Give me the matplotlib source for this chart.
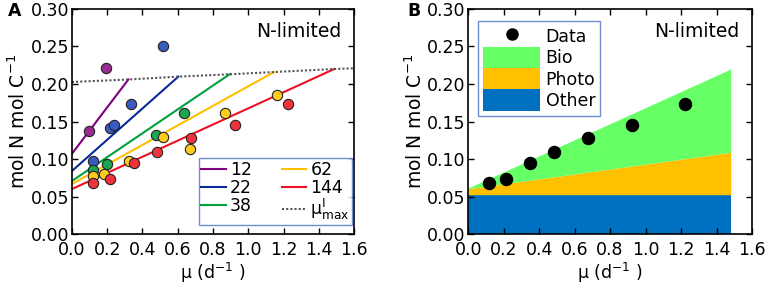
import matplotlib
matplotlib.use("Agg")
import matplotlib.pyplot as plt
import numpy as np
from matplotlib.patches import Patch
from matplotlib.lines import Line2D

# ---- data ----
series_labels = ["12", "22", "38", "62", "144"]
line_colors = ["#800080", "#0a2a9a", "#00a03a", "#ffbf00", "#ee1122"]
marker_colors = ["#9a2c92", "#3a5bc0", "#1ea552", "#ffcc1e", "#f0323c"]

mu_12 = [0.095, 0.191]
q_12 = [0.137, 0.221]
mu_22 = [0.117, 0.216, 0.238, 0.336, 0.518]
q_22 = [0.097, 0.142, 0.146, 0.173, 0.251]
mu_38 = [0.117, 0.197, 0.475, 0.637]
q_38 = [0.085, 0.094, 0.132, 0.162]
mu_62 = [0.117, 0.183, 0.321, 0.515, 0.668, 0.868, 1.161]
q_62 = [0.077, 0.080, 0.098, 0.129, 0.114, 0.162, 0.186]
mu_144 = [0.117, 0.216, 0.350, 0.484, 0.673, 0.925, 1.222]
q_144 = [0.068, 0.074, 0.095, 0.110, 0.128, 0.146, 0.173]

# model lines: intercept at mu=0, end point (mu, q)
line_mu = [[0.0, 0.32], [0.0, 0.603], [0.0, 0.896], [0.0, 1.146], [0.0, 1.487]]
line_q = [[0.107, 0.206], [0.084, 0.2098], [0.0707, 0.2133], [0.0667, 0.216], [0.060, 0.220]]

mumax_mu = [0.0, 0.32, 0.60, 0.90, 1.15, 1.49, 1.6]
mumax_q = [0.2027, 0.206, 0.2098, 0.213, 0.216, 0.220, 0.221]

# panel B stacked components (mu from 0 to 1.48)
b_mu = [0.0, 1.48]
b_other = [0.0525, 0.0525]
b_photo_top = [0.0605, 0.109]
b_bio_top = [0.0615, 0.220]

xticks = [0.0, 0.2, 0.4, 0.6, 0.8, 1.0, 1.2, 1.4, 1.6]
yticks = [0.00, 0.05, 0.10, 0.15, 0.20, 0.25, 0.30]

plt.rcParams['font.family'] = ['DejaVu Sans']
plt.rcParams['font.size'] = 12
plt.rcParams['mathtext.default'] = 'regular'

fig = plt.figure(figsize=(7.65, 2.89), dpi=100)
axA = fig.add_axes([0.094, 0.190, 0.369, 0.779])
axB = fig.add_axes([0.612, 0.190, 0.371, 0.779])

def style(ax):
    ax.set_xlim(0, 1.6)
    ax.set_ylim(0, 0.30)
    ax.set_xticks(xticks)
    ax.set_yticks(yticks)
    ax.set_xticklabels([f"{v:.1f}" for v in xticks])
    ax.set_yticklabels([f"{v:.2f}" for v in yticks])
    ax.tick_params(direction='in', top=True, right=True, length=4, width=1, labelsize=12.5)
    ax.tick_params(axis='y', pad=2)
    ax.tick_params(axis='x', pad=5)
    for s in ax.spines.values():
        s.set_linewidth(1.2)
    ax.set_xlabel("μ (d$^{-1}$ )", fontsize=12.5, labelpad=1)
    ax.set_ylabel("mol N mol C$^{-1}$", fontsize=13.5, labelpad=1)
    ax.text(0.955, 0.9, "N-limited", transform=ax.transAxes, ha='right', va='center', fontsize=13.5)

# ---- Panel A ----
mus = [mu_12, mu_22, mu_38, mu_62, mu_144]
qs = [q_12, q_22, q_38, q_62, q_144]
handles = []
for i in range(5):
    h, = axA.plot(line_mu[i], line_q[i], color=line_colors[i], lw=1.5, label=series_labels[i], zorder=2)
    handles.append(h)
h_mm, = axA.plot(mumax_mu, mumax_q, color='#555555', lw=1.5, ls=(0, (1, 1)),
                 label='μ$^{I}_{max}$', zorder=2)
for i in range(5):
    axA.scatter(mus[i], qs[i], s=55, color=marker_colors[i], edgecolor='#222222', linewidth=0.8, zorder=3)
style(axA)
leg = axA.legend(handles=handles + [h_mm], ncol=2, loc='lower right', fontsize=12.5,
                 bbox_to_anchor=(0.993, 0.04), borderaxespad=0, handlelength=1.4, handletextpad=0.25,
                 columnspacing=1.7, labelspacing=0.02, borderpad=0.15, fancybox=False)
leg.get_frame().set_edgecolor('#4a72c4')
leg.get_frame().set_linewidth(1.0)
axA.text(-0.228, 0.99, "A", transform=axA.transAxes, fontsize=12.5, fontweight='bold', va='center', ha='left')

# ---- Panel B ----
axB.fill_between(b_mu, 0, b_other, color='#0070c0', lw=0)
axB.fill_between(b_mu, b_other, b_photo_top, color='#ffc000', lw=0)
axB.fill_between(b_mu, b_photo_top, b_bio_top, color='#66ff66', lw=0)
axB.scatter(mu_144, q_144, s=75, color='black', zorder=3)
style(axB)
hB = [Line2D([], [], ls='none', marker='o', color='black', markersize=8, label='Data'),
      Patch(facecolor='#66ff66', label='Bio'),
      Patch(facecolor='#ffc000', label='Photo'),
      Patch(facecolor='#0070c0', label='Other')]
legB = axB.legend(handles=hB, loc='upper left', bbox_to_anchor=(0.034, 0.948), borderaxespad=0,
                  fontsize=12.5, handlelength=3.3, handleheight=1.5, labelspacing=0.0,
                  handletextpad=0.3, borderpad=0.3, fancybox=False)
legB.get_frame().set_edgecolor('#4a72c4')
legB.get_frame().set_linewidth(1.0)
axB.text(-0.215, 0.99, "B", transform=axB.transAxes, fontsize=12.5, fontweight='bold', va='center', ha='left')

fig.savefig("out.png", dpi=100)
